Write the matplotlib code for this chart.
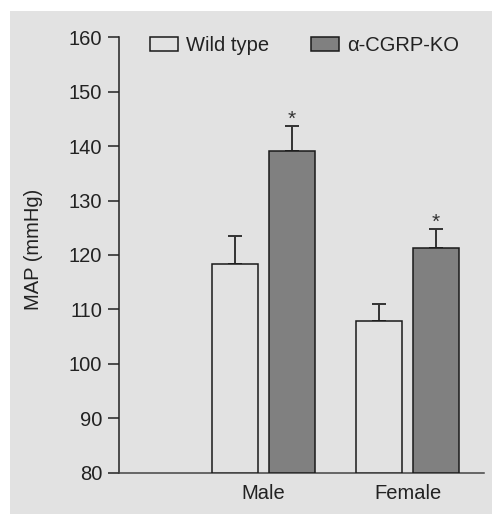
import matplotlib
matplotlib.use("Agg")
import matplotlib.pyplot as plt
from matplotlib.patches import Patch
import numpy as np

plt.rcParams['font.family'] = ['Liberation Sans', 'DejaVu Sans']

categories = ["Male", "Female"]
series_names = ["Wild type", "\u03b1-CGRP-KO"]
wild_type = [118.4, 107.8]
wild_type_err = [5.1, 3.2]
ko = [139.1, 121.2]
ko_err = [4.6, 3.6]
significant = [True, True]
yticks = [80, 90, 100, 110, 120, 130, 140, 150, 160]

BG = "#e2e2e2"
DARK = "#808080"
EDGE = "#1a1a1a"
FS = 14.5

fig = plt.figure(figsize=(4.92, 5.14), dpi=100)
fig.patch.set_facecolor("white")
fig.patches.append(plt.Rectangle((10/492, 0), 1 - 10/492, 1 - 11/514,
                                 transform=fig.transFigure, facecolor=BG,
                                 edgecolor="none", zorder=-10))

ax = fig.add_axes([119/492, 1 - 472.7/514, (484 - 119)/492, (472.7 - 37.3)/514])
ax.set_facecolor(BG)

x = np.arange(1, len(categories) + 1)
w = 0.32
off = 0.197
base = 80
ax.bar(x - off, np.array(wild_type) - base, w, bottom=base, color=BG,
       edgecolor=EDGE, linewidth=1.1, zorder=3)
ax.bar(x + off, np.array(ko) - base, w, bottom=base, color=DARK,
       edgecolor=EDGE, linewidth=1.1, zorder=3)
ax.errorbar(x - off, wild_type, yerr=[np.zeros(len(wild_type)), wild_type_err],
            fmt="none", ecolor="#333333", elinewidth=1.4, capsize=4.7,
            capthick=1.4, zorder=2)
ax.errorbar(x + off, ko, yerr=[np.zeros(len(ko)), ko_err],
            fmt="none", ecolor="#333333", elinewidth=1.4, capsize=4.7,
            capthick=1.4, zorder=2)
for xi, v, e, s in zip(x + off, ko, ko_err, significant):
    if s:
        ax.annotate("*", (xi, v + e), xytext=(0, -2), textcoords="offset points",
                    ha="center", va="bottom", fontsize=15, color="#333333")

ax.set_xlim(0, 2.53)
ax.set_ylim(80, 160)
ax.set_yticks(yticks)
ax.set_yticklabels([str(t) for t in yticks])
ax.set_xticks(x)
ax.set_xticklabels(categories)
ax.tick_params(axis="x", length=0, pad=8, labelsize=FS, colors="#222222")
ax.tick_params(axis="y", length=8, width=1.1, pad=4, labelsize=FS,
               colors="#222222", direction="out")
for sp in ["top", "right"]:
    ax.spines[sp].set_visible(False)
for sp in ["left", "bottom"]:
    ax.spines[sp].set_linewidth(1.1)
    ax.spines[sp].set_color("#222222")
ax.spines["bottom"].set_color("#444444")
ax.set_ylabel("MAP (mmHg)", fontsize=FS, color="#222222")
ax.yaxis.set_label_coords((43 - 119) / 365, (472.7 - 249) / 435.4)

handles = [Patch(facecolor=BG, edgecolor=EDGE, linewidth=1.1),
           Patch(facecolor=DARK, edgecolor=EDGE, linewidth=1.1)]
leg = ax.legend(handles, series_names, ncol=2, loc="center left",
                bbox_to_anchor=((150 - 119) / 365, (472.7 - 45.5) / 435.4),
                frameon=False, fontsize=FS, handlelength=1.39, handleheight=0.68,
                handletextpad=0.4, columnspacing=2.1, borderaxespad=0,
                borderpad=0)
for t in leg.get_texts():
    t.set_color("#222222")

fig.savefig("out.png", dpi=100, facecolor=fig.get_facecolor())
